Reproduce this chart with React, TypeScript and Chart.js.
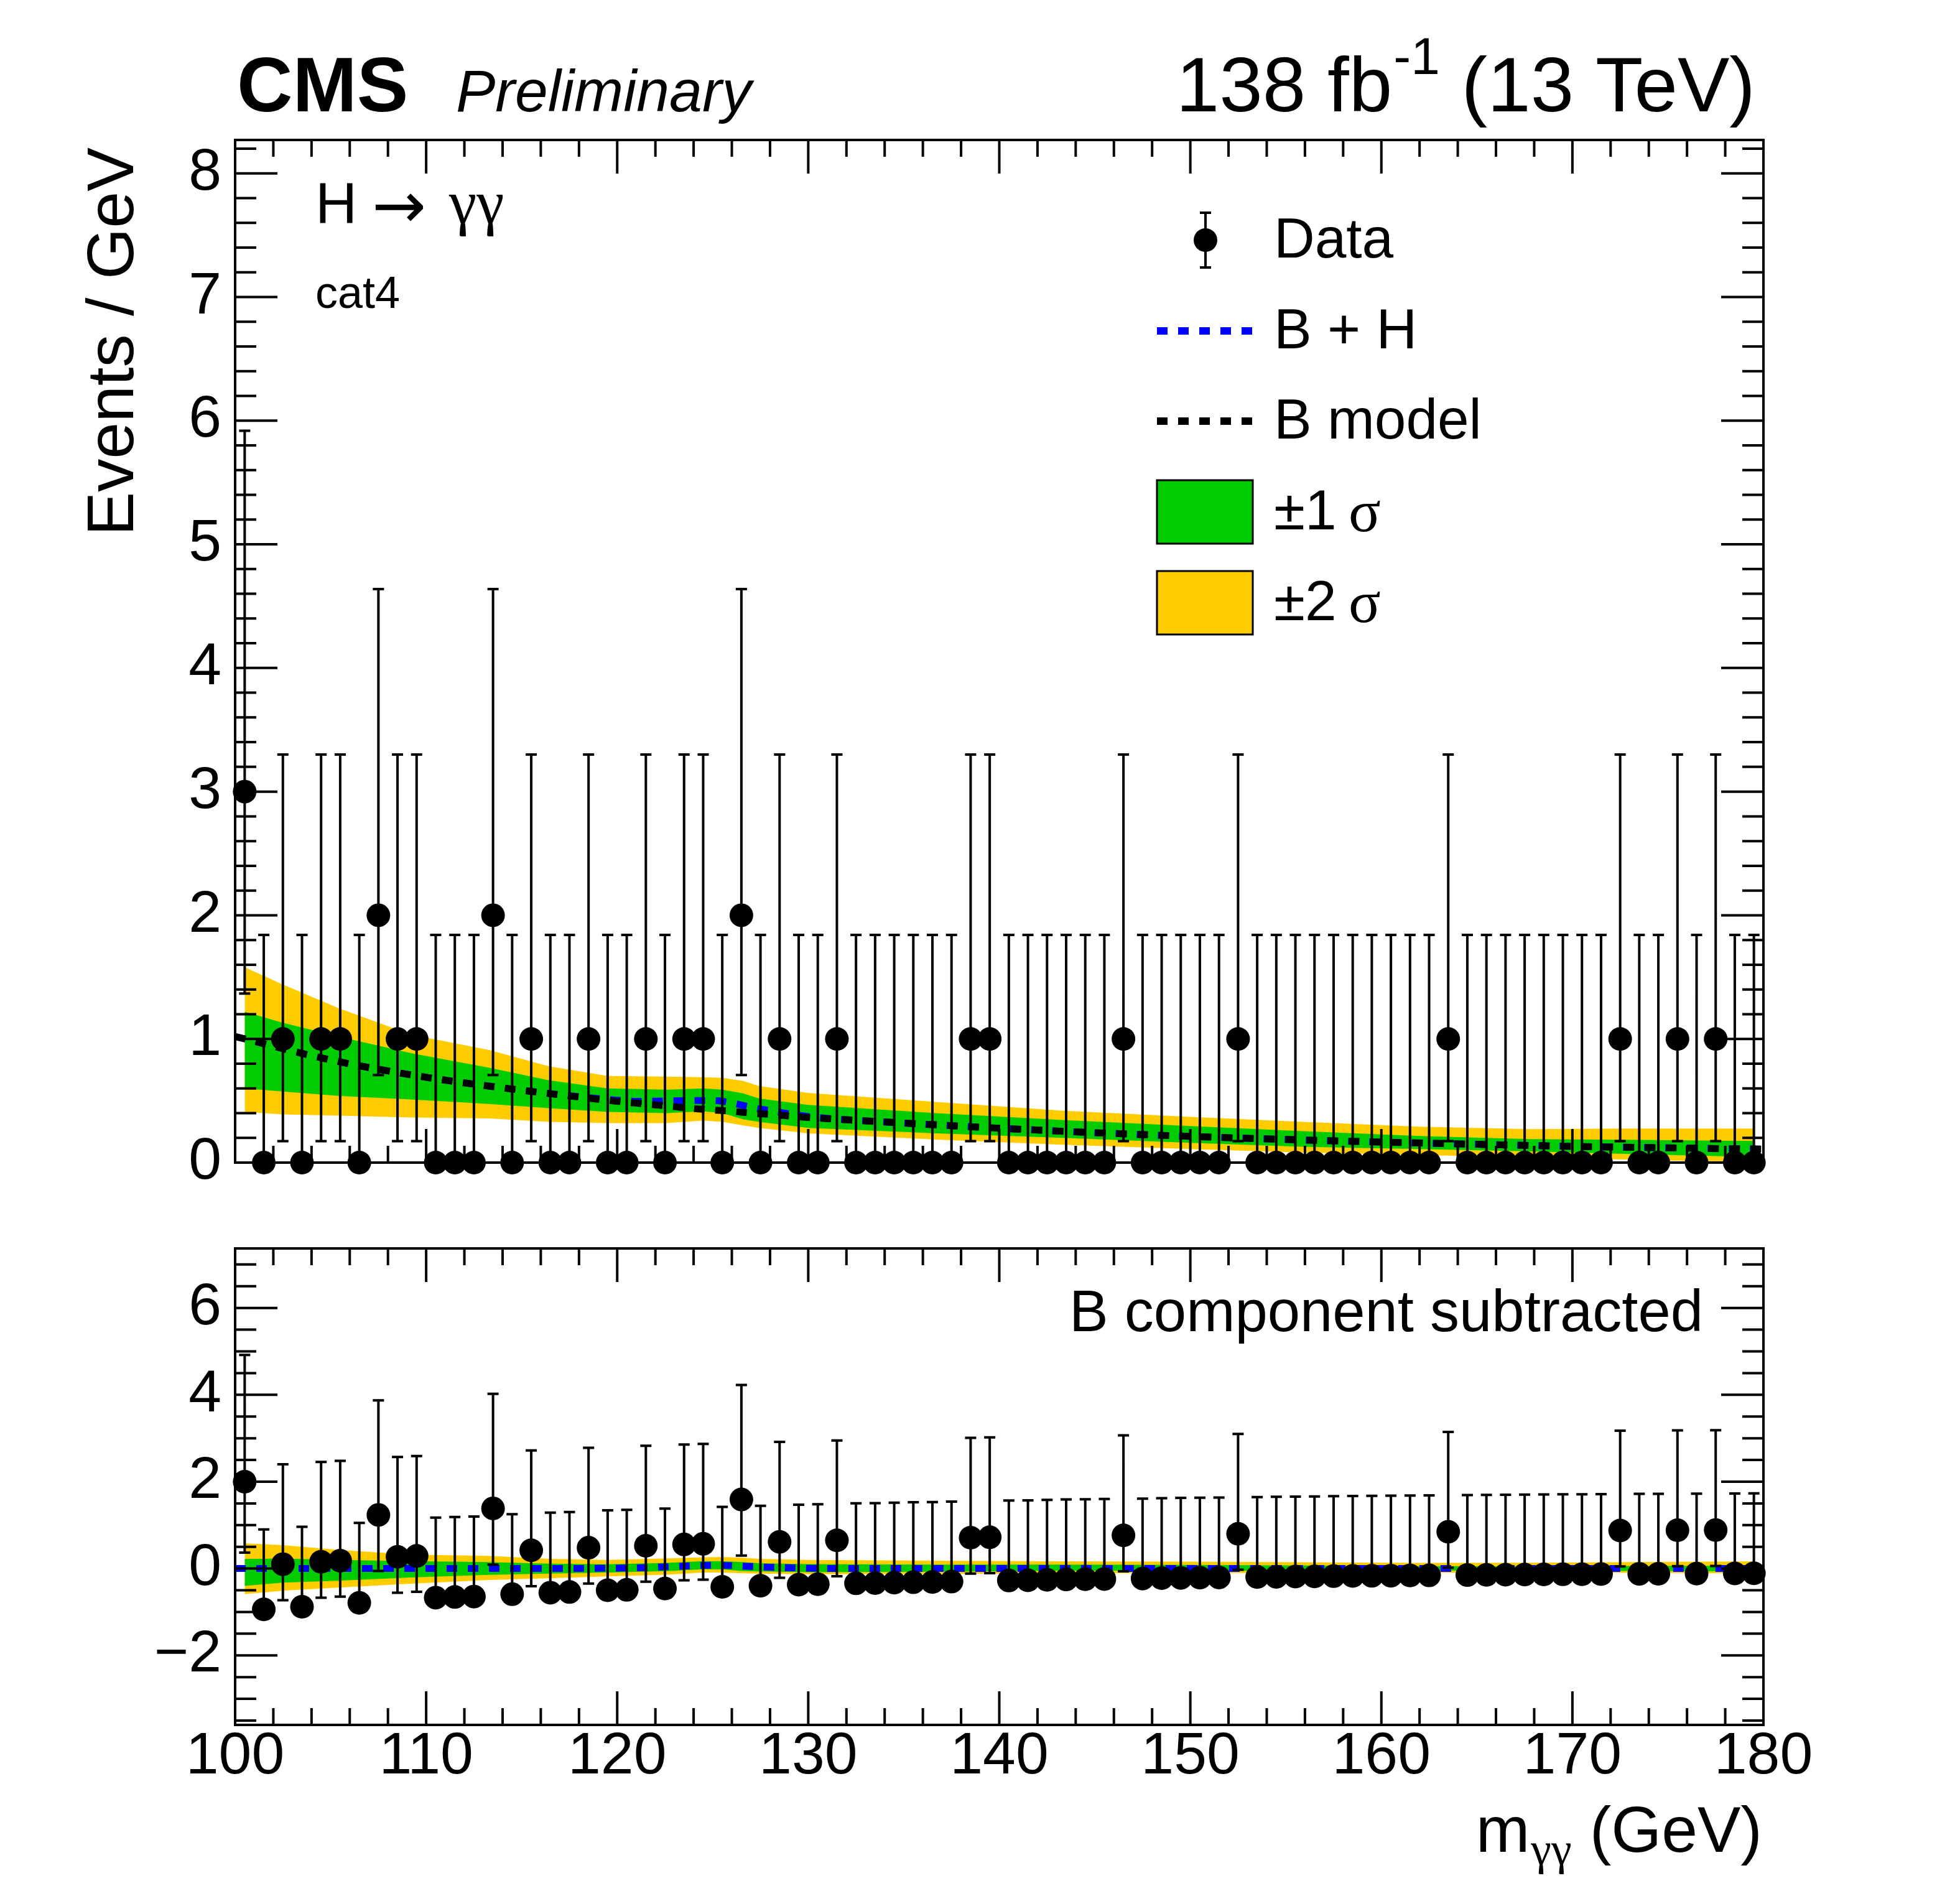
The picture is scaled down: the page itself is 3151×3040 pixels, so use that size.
import { useEffect, useRef } from 'react';
import { Chart, registerables } from 'chart.js';
import type { Plugin } from 'chart.js';

Chart.register(...registerables);

const FONT = '"Liberation Sans", Arial, Helvetica, sans-serif';
const SYMBOL = '"Liberation Serif", "Times New Roman", serif';
const W = 3151;
const H = 3040;
const UPPER_H = 1960; // height of the upper canvas
const LOWER_TOP = 1925; // top of the lower canvas

// bins of 1 GeV
const binCenters = [
  100.5, 101.5, 102.5, 103.5, 104.5, 105.5, 106.5, 107.5, 108.5, 109.5,
  110.5, 111.5, 112.5, 113.5, 114.5, 115.5, 116.5, 117.5, 118.5, 119.5,
  120.5, 121.5, 122.5, 123.5, 124.5, 125.5, 126.5, 127.5, 128.5, 129.5,
  130.5, 131.5, 132.5, 133.5, 134.5, 135.5, 136.5, 137.5, 138.5, 139.5,
  140.5, 141.5, 142.5, 143.5, 144.5, 145.5, 146.5, 147.5, 148.5, 149.5,
  150.5, 151.5, 152.5, 153.5, 154.5, 155.5, 156.5, 157.5, 158.5, 159.5,
  160.5, 161.5, 162.5, 163.5, 164.5, 165.5, 166.5, 167.5, 168.5, 169.5,
  170.5, 171.5, 172.5, 173.5, 174.5, 175.5, 176.5, 177.5, 178.5, 179.5,
];
const counts = [
  3, 0, 1, 0, 1, 1, 0, 2, 1, 1,
  0, 0, 0, 2, 0, 1, 0, 0, 1, 0,
  0, 1, 0, 1, 1, 0, 2, 0, 1, 0,
  0, 1, 0, 0, 0, 0, 0, 0, 1, 1,
  0, 0, 0, 0, 0, 0, 1, 0, 0, 0,
  0, 0, 1, 0, 0, 0, 0, 0, 0, 0,
  0, 0, 0, 1, 0, 0, 0, 0, 0, 0,
  0, 0, 1, 0, 0, 1, 0, 1, 0, 0,
];
// data minus B component (lower panel)
const residuals = [
  2.0, -0.94, 0.1, -0.88, 0.155, 0.18, -0.79, 1.235, 0.27, 0.29,
  -0.67, -0.655, -0.645, 1.385, -0.59, 0.42, -0.555, -0.54, 0.48, -0.5,
  -0.49, 0.525, -0.46, 0.555, 0.57, -0.42, 1.59, -0.395, 0.615, -0.37,
  -0.36, 0.65, -0.34, -0.335, -0.325, -0.315, -0.31, -0.3, 0.71, 0.72,
  -0.275, -0.27, -0.26, -0.25, -0.245, -0.24, 0.765, -0.23, -0.22, -0.215,
  -0.21, -0.205, 0.8, -0.195, -0.19, -0.185, -0.18, -0.175, -0.17, -0.168,
  -0.165, -0.16, -0.157, 0.847, -0.15, -0.146, -0.142, -0.138, -0.135, -0.132,
  -0.13, -0.128, 0.875, -0.122, -0.12, 0.882, -0.116, 0.886, -0.112, -0.11,
];
// Poisson (Garwood) 68% interval edges for n = 0..3
const poissonLo = [0, 0.173, 0.708, 1.367];
const poissonHi = [1.841, 3.3, 4.638, 5.918];

// background model and Higgs component
const bkgX = [100, 105, 110, 115, 118, 120, 121, 122, 123, 124, 125, 126, 127, 128, 129, 130, 131, 135, 140, 145, 150, 155, 160, 165, 170, 175, 180];
const bkgY = [1.02, 0.83, 0.69, 0.585, 0.53, 0.495, 0.48, 0.467, 0.452, 0.437, 0.425, 0.415, 0.4, 0.39, 0.377, 0.365, 0.355, 0.32, 0.278, 0.242, 0.212, 0.187, 0.166, 0.148, 0.131, 0.119, 0.109];
const sigY = [0, 0, 0, 0, 0.003, 0.01, 0.016, 0.03, 0.048, 0.065, 0.077, 0.068, 0.047, 0.03, 0.018, 0.008, 0.003, 0, 0, 0, 0, 0, 0, 0, 0, 0, 0];

// uncertainty bands
const bandX = [100.5, 102.5, 105.4, 109.2, 113.3, 116.4, 119.5, 122.6, 124.5, 125.5, 126.6, 127.4, 130.0, 136.7, 143.3, 150.0, 156.1, 162.0, 167.8, 172.7, 179.5];
const band2Hi = [1.58, 1.44, 1.25, 1.035, 0.91, 0.78, 0.7, 0.695, 0.69, 0.685, 0.66, 0.62, 0.563, 0.49, 0.42, 0.37, 0.328, 0.29, 0.27, 0.275, 0.275];
const band1Hi = [1.22, 1.13, 1.02, 0.885, 0.767, 0.667, 0.6, 0.59, 0.6, 0.59, 0.56, 0.52, 0.466, 0.4, 0.345, 0.295, 0.253, 0.215, 0.19, 0.185, 0.175];
const band1Lo = [0.6, 0.575, 0.54, 0.51, 0.474, 0.44, 0.41, 0.4, 0.415, 0.4, 0.35, 0.33, 0.28, 0.236, 0.2, 0.16, 0.127, 0.11, 0.09, 0.07, 0.045];
const band2Lo = [0.41, 0.39, 0.38, 0.365, 0.357, 0.33, 0.32, 0.32, 0.34, 0.33, 0.3, 0.28, 0.236, 0.186, 0.144, 0.11, 0.08, 0.06, 0.045, 0.025, 0.0];
const bandBkg = [1.0, 0.9, 0.82, 0.715, 0.62, 0.555, 0.5, 0.46, 0.43, 0.42, 0.41, 0.397, 0.365, 0.31, 0.252, 0.212, 0.182, 0.158, 0.137, 0.125, 0.11];

const xTicks = [100, 110, 120, 130, 140, 150, 160, 170, 180];
const upperYTicks = [0, 1, 2, 3, 4, 5, 6, 7, 8];
const lowerYTicks = [-2, 0, 2, 4, 6];

const GREEN = '#00cc00';
const YELLOW = '#ffcc00';
const BLUE = '#0000ff';
const DASH = [17, 17];

const pts = (xs: number[], ys: number[]) => xs.map((x, i) => ({ x, y: ys[i] }));

function frameTicks(yMajors: number[], yMinorStep: number): Plugin {
  return {
    id: 'frameTicks',
    afterDraw(chart) {
      const { ctx, chartArea: a } = chart;
      const xs = chart.scales.x;
      const ys = chart.scales.y;
      ctx.save();
      ctx.strokeStyle = '#000';
      ctx.lineWidth = 4;
      ctx.beginPath();
      for (let v = 100; v <= 180.001; v += 2) {
        const len = xTicks.includes(Math.round(v)) ? 54 : 27;
        const px = xs.getPixelForValue(v);
        ctx.moveTo(px, a.bottom); ctx.lineTo(px, a.bottom - len);
        ctx.moveTo(px, a.top); ctx.lineTo(px, a.top + len);
      }
      const start = Math.ceil(ys.min / yMinorStep) * yMinorStep;
      for (let v = start; v <= ys.max + 1e-6; v += yMinorStep) {
        const major = yMajors.some((m) => Math.abs(m - v) < 1e-6);
        const len = major ? 68 : 34;
        const py = ys.getPixelForValue(v);
        ctx.moveTo(a.left, py); ctx.lineTo(a.left + len, py);
        ctx.moveTo(a.right, py); ctx.lineTo(a.right - len, py);
      }
      ctx.stroke();
      ctx.strokeRect(a.left, a.top, a.right - a.left, a.bottom - a.top);
      ctx.restore();
    },
  };
}

function errorBars(lo: number[], hi: number[]): Plugin {
  return {
    id: 'errorBars',
    afterDatasetsDraw(chart) {
      const { ctx } = chart;
      const xs = chart.scales.x;
      const ys = chart.scales.y;
      ctx.save();
      ctx.strokeStyle = '#000';
      ctx.lineWidth = 4;
      ctx.beginPath();
      binCenters.forEach((c, i) => {
        const px = xs.getPixelForValue(c);
        const y1 = ys.getPixelForValue(lo[i]);
        const y2 = ys.getPixelForValue(hi[i]);
        ctx.moveTo(px, y1); ctx.lineTo(px, y2);
        ctx.moveTo(px - 9, y1); ctx.lineTo(px + 9, y1);
        ctx.moveTo(px - 9, y2); ctx.lineTo(px + 9, y2);
      });
      ctx.stroke();
      ctx.restore();
    },
  };
}

const upperText: Plugin = {
  id: 'upperText',
  afterDraw(chart) {
    const ctx = chart.ctx;
    ctx.save();
    ctx.fillStyle = '#000';
    ctx.textBaseline = 'alphabetic';
    ctx.textAlign = 'left';
    ctx.font = `bold 124px ${FONT}`;
    ctx.fillText('CMS', 381, 179);
    ctx.font = `italic 95px ${FONT}`;
    ctx.fillText('Preliminary', 733, 179);

    ctx.font = `125px ${FONT}`;
    const tail = ' (13 TeV)';
    const xTail = 2822 - ctx.measureText(tail).width;
    ctx.fillText(tail, xTail, 179);
    ctx.font = `84px ${FONT}`;
    const supW = ctx.measureText('-1').width;
    ctx.fillText('-1', xTail - supW, 119);
    ctx.font = `125px ${FONT}`;
    ctx.textAlign = 'right';
    ctx.fillText('138 fb', xTail - supW - 2, 179);

    ctx.textAlign = 'left';
    ctx.font = `93px ${FONT}`;
    ctx.fillText('H', 507, 359);
    ctx.font = `104px "DejaVu Sans", ${FONT}`;
    ctx.fillText('\u2192', 598, 366);
    ctx.font = `100px ${SYMBOL}`;
    ctx.fillText('\u03b3\u03b3', 722, 359);
    ctx.font = `72px ${FONT}`;
    ctx.fillText('cat4', 507, 495);

    // y title
    ctx.save();
    ctx.translate(214, 237);
    ctx.rotate(-Math.PI / 2);
    ctx.textAlign = 'right';
    ctx.font = `106px ${FONT}`;
    ctx.fillText('Events / GeV', 0, 0);
    ctx.restore();

    // legend
    const rows = [386, 532, 677, 823, 969];
    const tx = 2048;
    ctx.font = `91px ${FONT}`;
    ctx.textBaseline = 'middle';
    ctx.strokeStyle = '#000';
    ctx.lineWidth = 4;
    ctx.beginPath();
    ctx.moveTo(1938, rows[0] - 44); ctx.lineTo(1938, rows[0] + 44);
    ctx.moveTo(1929, rows[0] - 44); ctx.lineTo(1947, rows[0] - 44);
    ctx.moveTo(1929, rows[0] + 44); ctx.lineTo(1947, rows[0] + 44);
    ctx.stroke();
    ctx.beginPath();
    ctx.arc(1938, rows[0], 19, 0, Math.PI * 2);
    ctx.fill();
    ctx.fillText('Data', tx, rows[0] + 3);

    ctx.lineWidth = 12;
    ctx.setLineDash(DASH);
    ctx.strokeStyle = BLUE;
    ctx.beginPath(); ctx.moveTo(1860, rows[1]); ctx.lineTo(2013, rows[1]); ctx.stroke();
    ctx.strokeStyle = '#000';
    ctx.beginPath(); ctx.moveTo(1860, rows[2]); ctx.lineTo(2013, rows[2]); ctx.stroke();
    ctx.setLineDash([]);
    ctx.fillText('B + H', tx, rows[1] + 3);
    ctx.fillText('B model', tx, rows[2] + 3);

    ctx.lineWidth = 3;
    ctx.fillStyle = GREEN;
    ctx.fillRect(1860, rows[3] - 51, 154, 102);
    ctx.strokeRect(1860, rows[3] - 51, 154, 102);
    ctx.fillStyle = YELLOW;
    ctx.fillRect(1860, rows[4] - 51, 154, 102);
    ctx.strokeRect(1860, rows[4] - 51, 154, 102);
    ctx.fillStyle = '#000';
    ctx.fillText('\u00b11', tx, rows[3] + 3);
    ctx.fillText('\u00b12', tx, rows[4] + 3);
    ctx.font = `96px ${SYMBOL}`;
    ctx.fillText('\u03c3', 2168, rows[3] + 6);
    ctx.fillText('\u03c3', 2168, rows[4] + 6);
    ctx.restore();
  },
};

const lowerText: Plugin = {
  id: 'lowerText',
  afterDraw(chart) {
    const ctx = chart.ctx;
    ctx.save();
    ctx.fillStyle = '#000';
    ctx.textBaseline = 'alphabetic';
    ctx.textAlign = 'right';
    ctx.font = `94px ${FONT}`;
    ctx.fillText('B component subtracted', 2738, 2140 - LOWER_TOP);

    const base = 2977 - LOWER_TOP;
    ctx.font = `104px ${FONT}`;
    const tail = ' (GeV)';
    const xTail = 2833 - ctx.measureText(tail).width;
    ctx.textAlign = 'left';
    ctx.fillText(tail, xTail, base);
    ctx.font = `74px ${SYMBOL}`;
    const subW = ctx.measureText('\u03b3\u03b3').width;
    ctx.fillText('\u03b3\u03b3', xTail - subW, base + 20);
    ctx.font = `104px ${FONT}`;
    ctx.textAlign = 'right';
    ctx.fillText('m', xTail - subW - 2, base);
    ctx.restore();
  },
};

function bandSets(hi2: number[], hi1: number[], lo1: number[], lo2: number[], first: number) {
  const common = { showLine: true, pointRadius: 0, borderWidth: 1, borderColor: 'rgba(0,0,0,0)', tension: 0 };
  return [
    { ...common, type: 'line' as const, data: pts(bandX, hi1), fill: first + 1, backgroundColor: GREEN, order: 3 },
    { ...common, type: 'line' as const, data: pts(bandX, lo1), fill: false, order: 3 },
    { ...common, type: 'line' as const, data: pts(bandX, hi2), fill: first + 3, backgroundColor: YELLOW, order: 4 },
    { ...common, type: 'line' as const, data: pts(bandX, lo2), fill: false, order: 4 },
  ];
}

const tickFont = { family: FONT, size: 95, lineHeight: 1 };
const fmt = (v: number | string) => {
  const n = Number(v);
  return n < 0 ? '\u2212' + Math.abs(n) : String(n);
};

function yScale(min: number, max: number, ticks: number[]) {
  return {
    type: 'linear' as const,
    min,
    max,
    grid: { display: false, drawTicks: false },
    border: { display: false },
    afterBuildTicks: (axis: any) => { axis.ticks = ticks.map((value) => ({ value })); },
    afterFit: (axis: any) => { axis.width = 200; },
    ticks: { font: tickFont, color: '#000', padding: 22, autoSkip: false, callback: fmt },
  };
}

const dataStyle = {
  type: 'scatter', pointRadius: 19, pointBackgroundColor: '#000',
  pointBorderWidth: 0, borderWidth: 0, clip: false, order: 0,
};

function UpperPanel() {
  const ref = useRef<HTMLCanvasElement>(null);
  useEffect(() => {
    if (!ref.current) return;
    const chart = new Chart(ref.current, {
      type: 'line',
      data: {
        datasets: [
          { ...dataStyle, data: pts(binCenters, counts) } as any,
          {
            data: pts(bkgX, bkgY), borderColor: '#000', borderWidth: 11, borderDash: DASH, pointRadius: 0,
            cubicInterpolationMode: 'monotone', fill: false, order: 1,
          },
          {
            data: pts(bkgX, bkgY.map((b, i) => b + sigY[i])), borderColor: BLUE, borderWidth: 11, borderDash: DASH,
            pointRadius: 0, cubicInterpolationMode: 'monotone', fill: false, order: 2,
          },
          ...bandSets(band2Hi, band1Hi, band1Lo, band2Lo, 3),
        ] as any,
      },
      options: {
        animation: false,
        responsive: false,
        devicePixelRatio: 1,
        events: [],
        layout: { padding: { left: 178, right: W - 2835, top: 225, bottom: UPPER_H - 1869 } },
        plugins: { legend: { display: false }, tooltip: { enabled: false } },
        scales: {
          x: { type: 'linear', min: 100, max: 180, display: false },
          y: yScale(0, 8.27, upperYTicks),
        } as any,
      },
      plugins: [errorBars(counts.map((n) => poissonLo[n]), counts.map((n) => poissonHi[n])), frameTicks(upperYTicks, 0.2), upperText],
    });
    return () => chart.destroy();
  }, []);
  return <canvas ref={ref} width={W} height={UPPER_H} style={{ position: 'absolute', left: 0, top: 0, width: W, height: UPPER_H }} />;
}

function LowerPanel() {
  const ref = useRef<HTMLCanvasElement>(null);
  useEffect(() => {
    if (!ref.current) return;
    const sub = (arr: number[]) => arr.map((v, i) => v - bandBkg[i]);
    const resLo = residuals.map((r, i) => r - (counts[i] - poissonLo[counts[i]]));
    const resHi = residuals.map((r, i) => r + (poissonHi[counts[i]] - counts[i]));
    const chart = new Chart(ref.current, {
      type: 'line',
      data: {
        datasets: [
          { ...dataStyle, data: pts(binCenters, residuals) } as any,
          {
            data: pts(bkgX, sigY), borderColor: BLUE, borderWidth: 11, borderDash: DASH, pointRadius: 0,
            cubicInterpolationMode: 'monotone', fill: false, order: 1,
          },
          ...bandSets(sub(band2Hi), sub(band1Hi), sub(band1Lo), sub(band2Lo), 2),
        ] as any,
      },
      options: {
        animation: false,
        responsive: false,
        devicePixelRatio: 1,
        events: [],
        layout: { padding: { left: 178, right: W - 2835, top: 2007 - LOWER_TOP, bottom: 0 } },
        plugins: { legend: { display: false }, tooltip: { enabled: false } },
        scales: {
          x: {
            type: 'linear', min: 100, max: 180,
            grid: { display: false, drawTicks: false },
            border: { display: false },
            afterBuildTicks: (axis: any) => { axis.ticks = xTicks.map((value) => ({ value })); },
            afterFit: (axis: any) => { axis.height = H - 2773; },
            ticks: { font: tickFont, color: '#000', padding: 4, autoSkip: false, maxRotation: 0, callback: fmt },
          },
          y: yScale(-3.6, 7.37, lowerYTicks),
        } as any,
      },
      plugins: [errorBars(resLo, resHi), frameTicks(lowerYTicks, 0.5), lowerText],
    });
    return () => chart.destroy();
  }, []);
  return <canvas ref={ref} width={W} height={H - LOWER_TOP} style={{ position: 'absolute', left: 0, top: LOWER_TOP, width: W, height: H - LOWER_TOP }} />;
}

export default function App() {
  return (
    <div style={{ position: 'absolute', left: 0, top: 0, width: W, height: H, background: '#fff', overflow: 'hidden' }}>
      <UpperPanel />
      <LowerPanel />
    </div>
  );
}
